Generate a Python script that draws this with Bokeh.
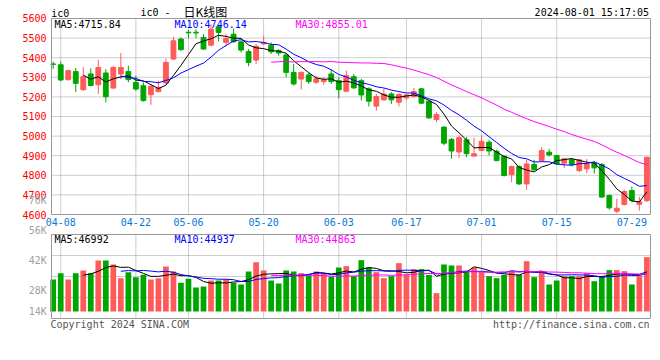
import numpy as np
import pandas as pd
from bokeh.plotting import figure
from bokeh.models import Range1d, Label, ColumnDataSource
from bokeh.core.properties import value
from bokeh.embed import file_html
from bokeh.resources import INLINE

# ---------------- data ----------------
holidays = ["2024-04-04", "2024-04-05", "2024-05-01", "2024-05-02", "2024-05-03", "2024-06-10"]
trading_days = [d for d in pd.bdate_range("2024-04-03", "2024-07-31")
                if d.strftime("%Y-%m-%d") not in holidays]
dates = [d.strftime("%m-%d") for d in trading_days]

opens = [5368, 5364, 5288, 5329, 5237, 5317, 5262, 5322, 5245, 5317,
         5330, 5274, 5257, 5211, 5227, 5271, 5393, 5495, 5530, 5530,
         5503, 5464, 5558, 5478, 5520, 5481, 5431, 5388, 5470, 5464,
         5436, 5414, 5325, 5291, 5312, 5275, 5278, 5317, 5283, 5229,
         5303, 5283, 5241, 5153, 5185, 5215, 5173, 5195, 5202, 5241,
         5178, 5085, 5046, 4983, 4919, 4981, 4898, 4927, 4969, 4923,
         4897, 4804, 4845, 4756, 4855, 4875, 4918, 4901, 4862, 4880,
         4824, 4833, 4860, 4855, 4697, 4617, 4651, 4722, 4652, 4671]
highs = [5380, 5380, 5339, 5347, 5352, 5346, 5390, 5342, 5359, 5424,
         5359, 5308, 5274, 5266, 5283, 5396, 5507, 5503, 5542, 5545,
         5520, 5571, 5563, 5520, 5549, 5486, 5444, 5470, 5512, 5478,
         5444, 5424, 5368, 5329, 5322, 5308, 5300, 5339, 5300, 5334,
         5317, 5292, 5249, 5215, 5241, 5224, 5219, 5219, 5246, 5246,
         5181, 5122, 5049, 4990, 5004, 4995, 4992, 5004, 4981, 4930,
         4901, 4850, 4850, 4879, 4879, 4943, 4935, 4904, 4889, 4884,
         4884, 4884, 4872, 4862, 4702, 4680, 4726, 4743, 4690, 4895]
lows = [5342, 5280, 5283, 5224, 5230, 5254, 5215, 5172, 5240, 5291,
        5274, 5232, 5176, 5159, 5223, 5266, 5388, 5435, 5500, 5500,
        5440, 5458, 5483, 5458, 5476, 5427, 5356, 5368, 5465, 5419,
        5410, 5300, 5258, 5237, 5266, 5266, 5261, 5266, 5193, 5224,
        5241, 5181, 5151, 5130, 5181, 5164, 5151, 5185, 5195, 5164,
        5088, 5071, 4953, 4885, 4888, 4893, 4895, 4924, 4902, 4872,
        4794, 4765, 4751, 4726, 4824, 4872, 4897, 4855, 4838, 4845,
        4816, 4811, 4809, 4685, 4624, 4607, 4646, 4663, 4620, 4663]
closes = [5366, 5286, 5334, 5269, 5303, 5258, 5350, 5201, 5350, 5350,
          5288, 5240, 5181, 5254, 5249, 5376, 5486, 5441, 5527, 5526,
          5444, 5546, 5529, 5498, 5481, 5439, 5376, 5458, 5478, 5430,
          5424, 5325, 5266, 5325, 5278, 5292, 5288, 5278, 5237, 5308,
          5246, 5210, 5178, 5202, 5215, 5185, 5212, 5210, 5227, 5168,
          5093, 5110, 4964, 4924, 4992, 4910, 4910, 4973, 4924, 4875,
          4799, 4845, 4756, 4858, 4828, 4926, 4904, 4858, 4884, 4855,
          4879, 4858, 4838, 4689, 4634, 4632, 4717, 4672, 4665, 4892]
volumes = [37900, 45400, 37900, 45400, 48600, 45400, 60400, 60400, 55700, 39500,
           46600, 40700, 43400, 37900, 39500, 53300, 47400, 34000, 38700, 28400,
           29600, 36700, 36700, 37900, 34000, 32000, 47400, 58400, 48600, 36700,
           33200, 48600, 47400, 45400, 42600, 47400, 45400, 41300, 52100, 53700,
           41900, 60800, 52100, 46600, 39500, 41900, 57300, 43400, 50200, 50200,
           43400, 21700, 55700, 54500, 54500, 47800, 52100, 46600, 41900, 39500,
           43400, 47800, 43400, 59600, 40700, 47800, 32000, 36700, 41900, 41900,
           41900, 45400, 35900, 41900, 49000, 49000, 47800, 32000, 41900, 64400]

price_ticks = [4600, 4700, 4800, 4900, 5000, 5100, 5200, 5300, 5400, 5500, 5600]
date_labels = ["04-08", "04-22", "05-06", "05-20", "06-03", "06-17", "07-01", "07-15", "07-29"]
vol_labels = ["70K", "56K", "42K", "28K", "14K"]
price_legend = ["MA5:4715.84", "MA10:4746.14", "MA30:4855.01"]
volume_legend = ["MA5:46992", "MA10:44937", "MA30:44863"]
ma_windows = [5, 10, 30]
symbol = "ic0"
title_cn = "日K线图"
timestamp = "2024-08-01 15:17:05"
copyright_text = "Copyright 2024 SINA.COM"
url_text = "http://finance.sina.com.cn"

# ---------------- styling / layout ----------------
RED, GREEN = "#ff5a5a", "#00a600"
MA_COLORS = ["#000000", "#0000ff", "#ff00ff"]
GRID_C = "#9a9a9a"
BORDER_C = "#999999"
DATE_C = "#0a78d2"
VOL_LBL_C = "#a0a0a0"
MONO = "DejaVu Sans Mono"
W, H = 652, 334

# horizontal extent of both panels in candle-index units, and of the whole canvas
x_lo, x_hi = 0.774, 80.48
x_start, x_end = -6.013, 80.747
# price panel = [4600, 5600]; canvas range of price scale
y_start, y_end = 3987.8, 5691.8
# volume panel limits and canvas range of volume scale
vol_lo, vol_hi = -8292, 91214
vol_start, vol_end = -27246, 368411

x = list(range(1, len(dates) + 1))
colors = [RED if c >= o else GREEN for o, c in zip(opens, closes)]
cs = pd.Series(closes, dtype=float)
vs = pd.Series(volumes, dtype=float)
data = dict(x=x, o=opens, h=highs, l=lows, c=closes, v=volumes, color=colors,
            top=[max(o, c) for o, c in zip(opens, closes)],
            bot=[min(o, c) for o, c in zip(opens, closes)])
for n in ma_windows:
    data[f"ma{n}"] = cs.rolling(n).mean().to_numpy()
    data[f"vma{n}"] = vs.rolling(n).mean().to_numpy()
src = ColumnDataSource(data)

date_pos = [dates.index(d) + 1 for d in date_labels]
grid_pos = date_pos[:-1]
p_lo, p_hi = price_ticks[0], price_ticks[-1]
vol_grid = [vol_lo + (vol_hi - vol_lo) * k / 4 for k in (1, 2, 3)]

p = figure(width=W, height=H, x_range=Range1d(x_start, x_end), y_range=Range1d(y_start, y_end),
           x_axis_type=None, y_axis_type=None, output_backend="svg",
           toolbar_location=None, tools="",
           min_border_left=0, min_border_right=0, min_border_top=0, min_border_bottom=0)
p.extra_y_ranges = {"vol": Range1d(vol_start, vol_end)}
p.background_fill_color = "white"
p.border_fill_color = "white"
p.outline_line_color = None

# ---- grids (dotted) ----
grid_kw = dict(line_color=GRID_C, line_width=1, line_dash="1 1")
p.segment(x0=x_lo, x1=x_hi, y0=price_ticks[1:-1], y1=price_ticks[1:-1], **grid_kw)
p.segment(x0=grid_pos, x1=grid_pos, y0=p_lo, y1=p_hi, **grid_kw)
p.segment(x0=x_lo, x1=x_hi, y0=vol_grid, y1=vol_grid, y_range_name="vol", **grid_kw)
p.segment(x0=grid_pos, x1=grid_pos, y0=vol_lo, y1=vol_hi, y_range_name="vol", **grid_kw)

# ---- price candles ----
p.segment(x0="x", y0="l", x1="x", y1="h", color="color", line_width=1, source=src)
p.vbar(x="x", width=0.64, top="top", bottom="bot", fill_color="color", line_color="color",
       line_width=1, source=src)
for n, col in zip(ma_windows, MA_COLORS):
    p.line(x="x", y=f"ma{n}", color=col, line_width=1, source=src)

# ---- volume bars ----
p.vbar(x="x", width=0.76, top="v", bottom=0, fill_color="color", line_color=None,
       source=src, y_range_name="vol")
for n, col in zip(ma_windows, MA_COLORS):
    p.line(x="x", y=f"vma{n}", color=col, line_width=1, source=src, y_range_name="vol")

# ---- panel borders ----
p.quad(left=x_lo, right=x_hi, bottom=p_lo, top=p_hi, fill_color=None,
       line_color=BORDER_C, line_width=1)
p.quad(left=x_lo, right=x_hi, bottom=vol_lo, top=vol_hi, fill_color=None,
       line_color=BORDER_C, line_width=1, y_range_name="vol")

# ---- tick labels (through the scales) ----
p.text(x=[x_lo] * len(price_ticks), y=price_ticks, text=[str(t) for t in price_ticks],
       x_offset=-5, text_align="right", text_baseline="middle",
       text_font=value(MONO), text_font_size=value("10px"), text_color="#ff0000")
p.text(x=date_pos, y=[p_lo] * len(date_pos), text=date_labels, y_offset=7.5,
       text_align="center", text_baseline="middle",
       text_font=value(MONO), text_font_size=value("10px"), text_color=DATE_C)


def add_text(sx, sy, text, color="#000000", align="left", size="10px", font=MONO):
    # screen units: x from canvas left, y up from canvas bottom
    p.add_layout(Label(x=sx, y=sy, x_units="screen", y_units="screen", text=text,
                       text_color=color, text_align=align, text_baseline="middle",
                       text_font_size=size, text_font=font))


# header
add_text(50.7, H - 12.7, symbol)
add_text(140, H - 11.5, symbol + " -")
add_text(183, H - 10.5, title_cn, size="12px", font="Noto Sans CJK SC")
add_text(648.5, H - 12.2, timestamp, align="right")
# legends
for lbl, col, sx in zip(price_legend, MA_COLORS, [54, 174, 295]):
    add_text(sx, H - 23.7, lbl, color=col)
for lbl, col, sx in zip(volume_legend, MA_COLORS, [54, 174, 295]):
    add_text(sx, H - 238.5, lbl, color=col)
# volume scale labels
for lbl, py in zip(vol_labels, [200.3, 230.3, 259.5, 290, 310.8]):
    add_text(46.3, H - py, lbl, color=VOL_LBL_C, align="right")
# footer
add_text(50, H - 324, copyright_text, color="#555555")
add_text(649, H - 324, url_text, color="#555555", align="right")

open("out.html", "w").write(file_html(p, INLINE, title="ic0 日K线图"))
